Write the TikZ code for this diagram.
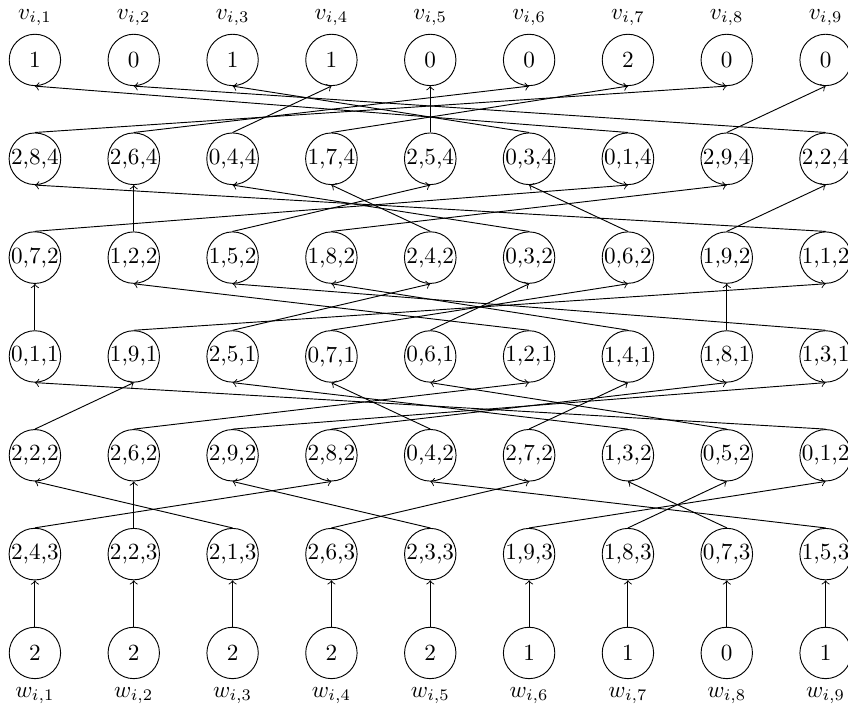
\documentclass[tikz,border=0pt]{standalone}
\newcommand{\layerA}{2/4/3, 2/2/3, 2/1/3, 2/6/3, 2/3/3, 1/9/3, 1/8/3, 0/7/3, 1/5/3}
\newcommand{\layerB}{2/2/2, 2/6/2, 2/9/2, 2/8/2, 0/4/2, 2/7/2, 1/3/2, 0/5/2, 0/1/2}
\newcommand{\layerC}{0/1/1, 1/9/1, 2/5/1, 0/7/1, 0/6/1, 1/2/1, 1/4/1, 1/8/1, 1/3/1}
\newcommand{\layerD}{0/7/2, 1/2/2, 1/5/2, 1/8/2, 2/4/2, 0/3/2, 0/6/2, 1/9/2, 1/1/2}
\newcommand{\layerE}{2/8/4, 2/6/4, 0/4/4, 1/7/4, 2/5/4, 0/3/4, 0/1/4, 2/9/4, 2/2/4}
\begin{document}
\begin{tikzpicture}[vertex/.style = {draw, circle, inner sep = 0pt, minimum size = 0.78cm}]
  \useasboundingbox (-0.53,-0.84) rectangle (12.34,9.91);
  \foreach \val [count=\i] in {2,2,2,2,2,1,1,0,1} {
    \node[vertex] (w\i) at ({1.5*(\i-1)},0) {\val};
    \node (lw\i) at ({1.5*(\i-1)},-0.65) {$w_{i,\i}$};
  }
  \foreach \val [count=\i] in {1,0,1,1,0,0,2,0,0} {
    \node[vertex] (v\i) at ({1.5*(\i-1)},9) {\val};
    \node (lv\i) at ({1.5*(\i-1)},9.64) {$v_{i,\i}$};
  }
  \foreach \p/\q/\r [count=\i] in \layerA
    \node[vertex] (a\i) at ({1.5*(\i-1)},1.5) {\p,\q,\r};
  \foreach \p/\q/\r [count=\i] in \layerB
    \node[vertex] (b\i) at ({1.5*(\i-1)},3) {\p,\q,\r};
  \foreach \p/\q/\r [count=\i] in \layerC
    \node[vertex] (c\i) at ({1.5*(\i-1)},4.5) {\p,\q,\r};
  \foreach \p/\q/\r [count=\i] in \layerD
    \node[vertex] (d\i) at ({1.5*(\i-1)},6) {\p,\q,\r};
  \foreach \p/\q/\r [count=\i] in \layerE
    \node[vertex] (e\i) at ({1.5*(\i-1)},7.5) {\p,\q,\r};
  % the middle entry names the column of the next layer
  \foreach \i in {1,...,9}
    \draw[->] (w\i.north) -- (a\i.south);
  \foreach \p/\q/\r [count=\i] in \layerA
    \draw[->] (a\i.north) -- (b\q.south);
  \foreach \p/\q/\r [count=\i] in \layerB
    \draw[->] (b\i.north) -- (c\q.south);
  \foreach \p/\q/\r [count=\i] in \layerC
    \draw[->] (c\i.north) -- (d\q.south);
  \foreach \p/\q/\r [count=\i] in \layerD
    \draw[->] (d\i.north) -- (e\q.south);
  \foreach \p/\q/\r [count=\i] in \layerE
    \draw[->] (e\i.north) -- (v\q.south);
\end{tikzpicture}
\end{document}
